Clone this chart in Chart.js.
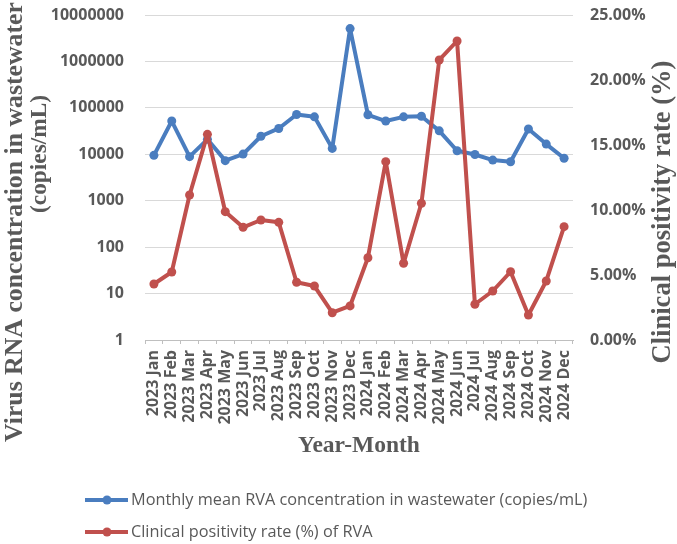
<!DOCTYPE html>
<html>
<head>
<meta charset="utf-8">
<script src="https://cdn.jsdelivr.net/npm/chart.js@4.4.1/dist/chart.umd.min.js"></script>
<style>
  html, body { margin: 0; padding: 0; background: #fff; }
  #wrap { width: 677px; height: 544px; position: relative; }
</style>
</head>
<body>
<div id="wrap"><canvas id="chart"></canvas></div>
<script>
const MONTHS = [
  '2023 Jan','2023 Feb','2023 Mar','2023 Apr','2023 May','2023 Jun',
  '2023 Jul','2023 Aug','2023 Sep','2023 Oct','2023 Nov','2023 Dec',
  '2024 Jan','2024 Feb','2024 Mar','2024 Apr','2024 May','2024 Jun',
  '2024 Jul','2024 Aug','2024 Sep','2024 Oct','2024 Nov','2024 Dec',
];
// copies/mL, log axis
const RVA_CONC = [
  9500, 52000, 8900, 21000, 7300, 10100, 24500, 36000, 72000, 64000, 13400, 5100000,
  71000, 52000, 64000, 66000, 32000, 11900, 9900, 7500, 6900, 35000, 16600, 8200,
];
// %
const POS_RATE = [
  4.31, 5.23, 11.15, 15.82, 9.87, 8.67, 9.23, 9.05, 4.44, 4.15, 2.10, 2.62,
  6.33, 13.72, 5.90, 10.52, 21.54, 23.00, 2.75, 3.77, 5.25, 1.92, 4.54, 8.72,
];
const LEFT_TICKS = [1, 10, 100, 1000, 10000, 100000, 1000000, 10000000];

const C_BLUE = '#4a7dbf';
const C_RED  = '#c0504d';
const GREY   = '#595959';
const TICK_FONT = { family: '"Open Sans", sans-serif', size: 16, weight: 'bold' };

function fitFont(ctx, text, width, family) {
  ctx.font = 'bold 20px ' + family;
  const size = 20 * width / ctx.measureText(text).width;
  ctx.font = 'bold ' + size.toFixed(2) + 'px ' + family;
}

// axis titles + legend, drawn by hand to follow the reference layout
const decor = {
  id: 'decor',
  afterDraw(chart) {
    const ctx = chart.ctx;
    const serif = '"Liberation Serif", "Times New Roman", serif';
    ctx.save();
    ctx.fillStyle = GREY;
    ctx.textAlign = 'center';
    ctx.textBaseline = 'middle';

    const vtext = (txt, x, y, w) => {
      ctx.save();
      ctx.translate(x, y);
      ctx.rotate(-Math.PI / 2);
      fitFont(ctx, txt, w, serif);
      ctx.fillText(txt, 0, 0);
      ctx.restore();
    };
    vtext('Virus RNA concentration in wastewater', 15, 222, 440);
    vtext('(copies/mL)', 40, 154, 118);
    vtext('Clinical positivity rate (%)', 663, 212, 303);

    fitFont(ctx, 'Year-Month', 122, serif);
    ctx.fillText('Year-Month', 359, 446);

    // legend
    const items = chart.data.datasets;
    ctx.textAlign = 'left';
    items.forEach((ds, i) => {
      const y = 500 + i * 32;
      ctx.strokeStyle = ds.borderColor;
      ctx.lineWidth = 4;
      ctx.beginPath();
      ctx.moveTo(85, y);
      ctx.lineTo(128, y);
      ctx.stroke();
      ctx.fillStyle = ds.borderColor;
      ctx.beginPath();
      ctx.arc(107, y, 4.5, 0, Math.PI * 2);
      ctx.fill();
      ctx.fillStyle = GREY;
      ctx.font = '16.3px "Open Sans", sans-serif';
      ctx.fillText(ds.label, 131, y);
    });
    ctx.restore();
  },
};

const lineDs = (label, data, color, axis, order) => ({
  label, data, yAxisID: axis, order,
  borderColor: color, backgroundColor: color,
  borderWidth: 4, borderJoinStyle: 'round', borderCapStyle: 'round',
  pointRadius: 4.5, pointHoverRadius: 4.5,
  pointBorderWidth: 0, tension: 0, fill: false,
});

// fixed axis box sizes, no extra label overhang padding
const fixV = w => s => { s.width = w; s.paddingTop = 0; s.paddingBottom = 0; };

new Chart(document.getElementById('chart'), {
  type: 'line',
  data: {
    labels: MONTHS,
    datasets: [
      lineDs('Monthly mean RVA concentration in wastewater (copies/mL)', RVA_CONC, C_BLUE, 'y', 1),
      lineDs('Clinical positivity rate (%) of RVA', POS_RATE, C_RED, 'y1', 0),
    ],
  },
  options: {
    responsive: true,
    maintainAspectRatio: false,
    animation: false,
    layout: { padding: { top: 15, left: 0, right: 0, bottom: 0 } },
    plugins: { legend: { display: false }, tooltip: { enabled: false } },
    scales: {
      x: {
        offset: true,
        grid: { display: true, offset: true, drawOnChartArea: false, drawTicks: true, tickLength: 4, color: '#bfbfbf' },
        border: { display: true, color: '#bfbfbf', width: 1 },
        ticks: { autoSkip: false, minRotation: 90, maxRotation: 90, padding: 6, color: GREY, font: TICK_FONT },
        afterFit: s => { s.height = 204; s.paddingLeft = 0; s.paddingRight = 0; },
      },
      y: {
        type: 'logarithmic', position: 'left', min: 1, max: 10000000,
        grid: { color: '#d9d9d9', drawTicks: false },
        border: { display: false },
        ticks: { padding: 21, color: GREY, font: TICK_FONT, callback: v => String(v) },
        afterBuildTicks: s => { s.ticks = LEFT_TICKS.map(v => ({ value: v })); },
        afterFit: fixV(145),
      },
      y1: {
        type: 'linear', position: 'right', min: 0, max: 25,
        grid: { display: false, drawTicks: false },
        border: { display: false },
        ticks: { stepSize: 5, padding: 17, color: GREY, font: TICK_FONT, callback: v => v.toFixed(2) + '%' },
        afterFit: fixV(104),
      },
    },
  },
  plugins: [decor],
});
</script>
</body>
</html>
